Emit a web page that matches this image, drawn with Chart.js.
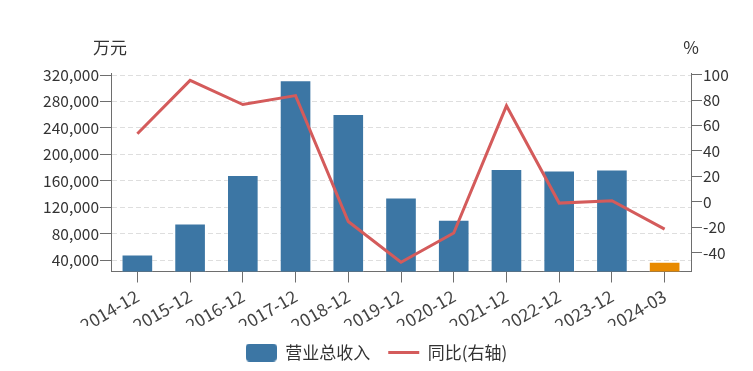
<!DOCTYPE html>
<html>
<head>
<meta charset="utf-8">
<script src="https://cdn.jsdelivr.net/npm/chart.js@4/dist/chart.umd.min.js"></script>
<style>
  html, body { margin: 0; padding: 0; background: #fff; }
  #box { width: 753px; height: 371px; }
</style>
</head>
<body>
<div id="box"><canvas id="revChart"></canvas></div>
<script>
// data
const periods = ['2014-12', '2015-12', '2016-12', '2017-12', '2018-12', '2019-12',
  '2020-12', '2021-12', '2022-12', '2023-12', '2024-03'];
const revenue = [49000, 96000, 169000, 312000, 261000, 135000, 101500, 178000, 176000, 177500, 38000];
const yoy = [53.5, 95.5, 76.5, 83.5, -15.5, -47.5, -24.5, 75.5, -1.0, 0.8, -21.5];
const leftTicks = [40000, 80000, 120000, 160000, 200000, 240000, 280000, 320000];
const rightTicks = [-40, -20, 0, 20, 40, 60, 80, 100];

const BLUE = '#3c76a4';
const ORANGE = '#e88a00';
const RED = '#d45b5b';
const FONT = '"Noto Sans CJK SC", "Microsoft YaHei", sans-serif';

// last period is a quarter -> orange
const barColors = periods.map(p => p.endsWith('-03') ? ORANGE : BLUE);

// legend swatch for the bars (rounded box)
const swatch = document.createElement('canvas');
swatch.width = 31;
swatch.height = 18;
const sctx = swatch.getContext('2d');
sctx.fillStyle = BLUE;
sctx.beginPath();
sctx.roundRect(0, 0, 31, 18, 4);
sctx.fill();

/* =========================
   AXIS UNIT LABELS
========================= */
const unitLabels = {
  id: 'unitLabels',
  afterDraw(chart) {
    const ctx = chart.ctx;
    ctx.save();
    ctx.font = '17px ' + FONT;
    ctx.fillStyle = '#333';
    ctx.textAlign = 'center';
    ctx.textBaseline = 'middle';
    ctx.fillText('万元', chart.scales.y.right - 1, 48);
    ctx.fillText('%', chart.scales.y1.left, 48);
    ctx.restore();
  }
};

const ctx = document.getElementById('revChart').getContext('2d');

new Chart(ctx, {
  type: 'bar',
  data: {
    labels: periods,
    datasets: [
      {
        label: '营业总收入',
        data: revenue,
        backgroundColor: barColors,
        borderColor: 'rgba(255,255,255,0.3)',
        borderWidth: 1,
        barPercentage: 0.6,
        categoryPercentage: 1,
        yAxisID: 'y',
        order: 1
      },
      {
        type: 'line',
        label: '同比(右轴)',
        data: yoy,
        borderColor: RED,
        backgroundColor: RED,
        borderWidth: 3,
        pointRadius: 0,
        pointStyle: 'line',
        tension: 0,
        yAxisID: 'y1',
        order: 0
      }
    ]
  },
  options: {
    responsive: true,
    maintainAspectRatio: false,
    animation: false,
    layout: {
      padding: { top: 73, left: 0, right: 0, bottom: 0 }
    },
    plugins: {
      tooltip: { enabled: false },
      legend: {
        position: 'bottom',
        maxHeight: 45.5,
        labels: {
          usePointStyle: true,
          pointStyleWidth: 31,
          padding: 18,
          color: '#333',
          font: { family: FONT, size: 17 },
          sort: (a, b) => a.datasetIndex - b.datasetIndex,
          generateLabels(chart) {
            const items = Chart.defaults.plugins.legend.labels.generateLabels(chart);
            items.forEach(it => {
              if (it.datasetIndex === 0) it.pointStyle = swatch;
            });
            return items;
          }
        }
      }
    },
    scales: {

      /* X AXIS */
      x: {
        afterFit: (scale) => { scale.height = 54.5; },
        grid: {
          display: true,
          drawOnChartArea: false,
          offset: false,
          tickLength: 11,
          tickColor: '#6e6e6e'
        },
        border: { color: '#6e6e6e' },
        ticks: {
          color: '#444',
          padding: 3,
          autoSkip: false,
          minRotation: 30,
          maxRotation: 30,
          font: { family: FONT, size: 17.5 }
        }
      },

      /* LEFT Y AXIS */
      y: {
        position: 'left',
        min: 23350,
        max: 323030,
        afterFit: (scale) => { scale.width = 111; },
        afterBuildTicks: (scale) => {
          scale.ticks = leftTicks.map(v => ({ value: v }));
        },
        grid: {
          color: '#dedede',
          tickLength: 11,
          tickColor: '#6e6e6e'
        },
        border: { color: '#6e6e6e', dash: [5, 3] },
        ticks: {
          color: '#333',
          padding: 1,
          font: { family: FONT, size: 15.5 },
          callback: (v) => v.toLocaleString('en-US')
        }
      },

      /* RIGHT Y AXIS */
      y1: {
        position: 'right',
        min: -54.8,
        max: 101.3,
        afterFit: (scale) => { scale.width = 62; },
        afterBuildTicks: (scale) => {
          scale.ticks = rightTicks.map(v => ({ value: v }));
        },
        grid: {
          drawOnChartArea: false,
          tickLength: 11,
          tickColor: '#6e6e6e'
        },
        border: { color: '#6e6e6e' },
        ticks: {
          color: '#333',
          padding: 1,
          font: { family: FONT, size: 15.5 }
        }
      }
    }
  },
  plugins: [unitLabels]
});
</script>
</body>
</html>
